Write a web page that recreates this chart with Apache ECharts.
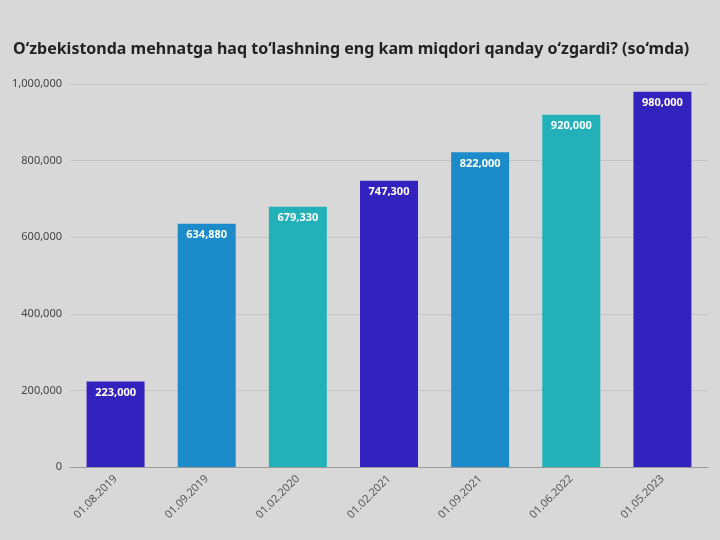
<!DOCTYPE html>
<html><head><meta charset="utf-8">
<script src="https://cdn.jsdelivr.net/npm/echarts@6/dist/echarts.min.js"></script>
<style>html,body{margin:0;padding:0;background:#d8d8d8}#c{width:720px;height:540px}</style>
</head><body><div id="c"></div>
<script>
const categories = ["01.08.2019","01.09.2019","01.02.2020","01.02.2021","01.09.2021","01.06.2022","01.05.2023"];
const values = [223000,634880,679330,747300,822000,920000,980000];
const colors = ["#3422bf","#1b8bc9","#22b1b9","#3422bf","#1b8bc9","#22b1b9","#3422bf"];
const chart = echarts.init(document.getElementById('c'));
chart.setOption({
  backgroundColor:'#d8d8d8',
  title:{text:'O‘zbekistonda mehnatga haq to‘lashning eng kam miqdori qanday o‘zgardi? (so‘mda)',left:8,top:36,
    textStyle:{fontFamily:'Noto Sans',fontSize:16,fontWeight:'bold',color:'#222'}},
  grid:{left:70,right:12,top:84,bottom:73},
  xAxis:{type:'category',data:categories,axisTick:{show:false},axisLine:{lineStyle:{color:'#999'}},
    axisLabel:{rotate:45,color:'#555',fontSize:11,fontFamily:'Noto Sans',margin:10}},
  yAxis:{type:'value',min:0,max:1000000,interval:200000,
    axisLabel:{color:'#444',fontSize:11,fontFamily:'Noto Sans',formatter:v=>v.toLocaleString('en-US')},
    splitLine:{lineStyle:{color:'#c4c4c4'}}},
  series:[{type:'bar',barWidth:58,
    data:values.map((v,i)=>({value:v,itemStyle:{color:colors[i]}})),
    label:{show:true,position:'insideTop',distance:6,color:'#fff',fontWeight:'bold',fontSize:11,fontFamily:'Noto Sans',
      formatter:p=>p.value.toLocaleString('en-US')}}]
});
</script></body></html>
